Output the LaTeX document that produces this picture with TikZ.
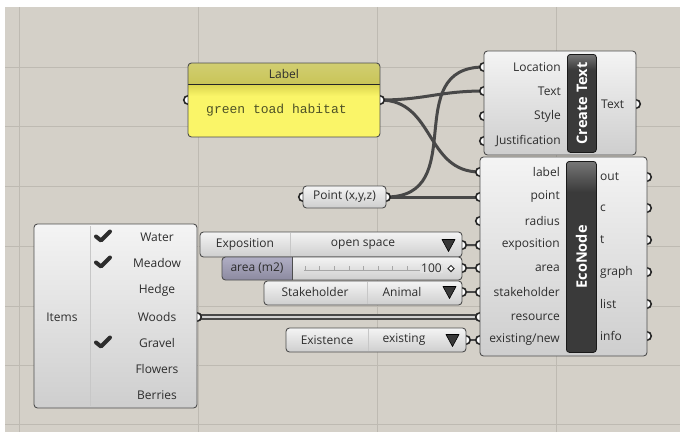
\documentclass[tikz,border=0pt]{standalone}
\usepackage{fontspec}
\setmainfont{Open Sans}
\newfontfamily\codefont{Liberation Mono}
\usetikzlibrary{shapes.geometric}

\definecolor{canvas}{RGB}{212,208,200}
\definecolor{gridline}{RGB}{190,186,178}
\definecolor{edge}{RGB}{78,78,78}
\definecolor{wirecol}{RGB}{72,72,72}
\definecolor{ink}{RGB}{45,45,45}
\definecolor{boxtop}{RGB}{244,244,244}
\definecolor{boxbot}{RGB}{206,206,206}
\definecolor{barcol}{RGB}{58,58,58}
\definecolor{barlight}{RGB}{118,118,118}
\definecolor{labelhead}{RGB}{201,197,88}
\definecolor{labelbody}{RGB}{250,245,104}
\definecolor{labelshadow}{RGB}{220,214,80}
\definecolor{nametop}{RGB}{176,174,196}
\definecolor{namebot}{RGB}{140,138,160}
\definecolor{codeink}{RGB}{78,82,38}

\pgfdeclareverticalshading{barshade}{100bp}{color(0bp)=(barcol); color(25bp)=(barcol); color(67bp)=(barcol); color(75bp)=(barlight); color(100bp)=(barlight)}

\pgfdeclarelayer{canvaslayer}
\pgfdeclarelayer{wirelayer}
\pgfdeclarelayer{portlayer}
\pgfsetlayers{canvaslayer,wirelayer,portlayer,main}

\begin{document}
\begin{tikzpicture}[x=1pt,y=-1pt,
  comp/.style={draw=edge, line width=0.9pt, rounded corners=3.5pt, top color=boxtop, bottom color=boxbot, anchor=north west, inner sep=0pt, outer sep=0pt},
  outline/.style={draw=edge, line width=0.9pt, rounded corners=3.5pt, anchor=north west, inner sep=0pt, outer sep=0pt},
  port/.style={circle, draw=black!85, fill=white, line width=1.6pt, inner sep=0pt, minimum size=8.5pt},
  wire/.style={draw=wirecol, line width=3pt},
  shortwire/.style={draw=wirecol, line width=2.2pt},
  txt/.style={font=\fontsize{12}{14}\selectfont, text=ink, inner sep=0pt},
  inname/.style={txt, anchor=east},
  outname/.style={txt, anchor=west},
  darkbar/.style={draw=black!90, line width=0.8pt, rounded corners=3pt, shading=barshade, anchor=north west, inner sep=0pt},
  bartext/.style={font=\bfseries\fontsize{14.5}{16}\selectfont, text=white, rotate=90, inner sep=0pt},
  checkmark/.style={draw=ink, line width=4pt, line cap=round, line join=round},
  droptri/.style={fill=black!78, draw=black, line width=0.6pt, line join=round},
  divider/.style={draw=black!22, line width=0.8pt},
]
\useasboundingbox (0,0) rectangle (680,432);

% ---------- canvas and grid ----------
\begin{pgfonlayer}{canvaslayer}
  \fill[canvas] (0,0) rectangle (680,432);
  \foreach \gx in {19,198,377,556} \draw[gridline, line width=1pt] (\gx,7) -- (\gx,432);
  \foreach \gy in {67,126,186,246,306,365,424} \draw[gridline, line width=1pt] (5,\gy) -- (680,\gy);
  \fill[white] (0,0) rectangle (680,7);
  \fill[white] (0,0) rectangle (5,432);
\end{pgfonlayer}

% ---------- Label panel ----------
\begin{scope}
  \clip[rounded corners=3.5pt] (188,63) rectangle (380,137);
  \fill[labelbody] (188,63) rectangle (380,137);
  \shade[top color=labelhead!85!white, bottom color=labelhead] (188,63) rectangle (380,84);
  \shade[top color=labelshadow, bottom color=labelbody] (188,85) rectangle (380,96);
  \draw[black!85, line width=1.6pt] (188,84.5) -- (380,84.5);
\end{scope}
\node[outline, minimum width=192pt, minimum height=74pt] (lab) at (188,63) {};
\node[txt] (labtitle) at (284,73.5) {Label};
\node[font=\codefont\fontsize{13}{14}\selectfont, text=codeink, anchor=west, inner sep=0pt] (labtext) at (206,110) {green toad habitat};

% ---------- Create Text ----------
\node[comp, minimum width=152pt, minimum height=104pt] (ct) at (484,51) {};
\node[darkbar, minimum width=29pt, minimum height=98pt] (ctbar) at (567,54) {};
\node[bartext] (cttitle) at (ctbar.center) {Create Text};
\node[inname] (ctn1) at (561,67) {Location};
\node[inname] (ctn2) at (561,91) {Text};
\node[inname] (ctn3) at (561,116) {Style};
\node[inname] (ctn4) at (561,141) {Justification};
\node[outname] (ctno) at (601,104) {Text};

% ---------- EcoNode ----------
\node[comp, minimum width=167pt, minimum height=199pt] (en) at (480,157) {};
\node[darkbar, minimum width=30pt, minimum height=191pt] (enbar) at (566,161) {};
\node[bartext] (entitle) at (enbar.center) {EcoNode};
\node[inname] (enn1) at (560,172) {label};
\node[inname] (enn2) at (560,197) {point};
\node[inname] (enn3) at (560,221) {radius};
\node[inname] (enn4) at (560,245) {exposition};
\node[inname] (enn5) at (560,268) {area};
\node[inname] (enn6) at (560,292) {stakeholder};
\node[inname] (enn7) at (560,317) {resource};
\node[inname] (enn8) at (560,340) {existing/new};
\node[outname] (eno1) at (600,177) {out};
\node[outname] (eno2) at (600,208) {c};
\node[outname] (eno3) at (600,240) {t};
\node[outname] (eno4) at (600,272) {graph};
\node[outname] (eno5) at (600,304) {list};
\node[outname] (eno6) at (600,336) {info};

% ---------- Point parameter ----------
\node[comp, minimum width=83pt, minimum height=22pt] (pt) at (303,186) {};
\node[txt] (pttext) at (344.5,197) {Point (x,y,z)};

% ---------- Items value list ----------
\node[comp, minimum width=163pt, minimum height=184pt] (items) at (34,224) {};
\draw[divider] (90,226) -- (90,406);
\node[txt] (itemsname) at (62,317) {Items};
\foreach \name/\ry [count=\k] in {Water/237,Meadow/263,Hedge/290,Woods/317,Gravel/343,Flowers/369,Berries/395}
  \node[txt] (item\k) at (157,\ry) {\name};
\foreach \ry in {237,263,343}
  \draw[checkmark] (96,\ry-0.5) -- (101,\ry+3.5) -- (110,\ry-5.5);

% ---------- Exposition list ----------
\node[comp, minimum width=262pt, minimum height=25pt] (expo) at (200,232) {};
\draw[divider] (290,233) -- (290,256);
\node[txt] (exponame) at (245,245) {Exposition};
\node[txt] (expoval) at (363,245) {open space};
\draw[droptri] (442,239.5) -- (455,239.5) -- (448.5,251.5) -- cycle;

% ---------- Area slider ----------
\begin{scope}
  \clip[rounded corners=3.5pt] (222,257) rectangle (462,280);
  \shade[top color=nametop, bottom color=namebot] (222,257) rectangle (292,280);
  \shade[top color=boxtop, bottom color=boxbot] (292,257) rectangle (462,280);
\end{scope}
\node[outline, minimum width=240pt, minimum height=23pt] (area) at (222,257) {};
\draw[edge, line width=0.7pt] (292,257) -- (292,280);
\node[txt] (areaname) at (257,268.5) {area (m2)};
\draw[black!35, line width=0.6pt] (304,270) -- (428,270);
\foreach \k in {0,...,8} \draw[black!35, line width=0.6pt] (305+14.6*\k,270) -- (305+14.6*\k,266);
\node[txt, anchor=east, fill=boxtop!50!boxbot, inner xsep=1pt] (areaval) at (443,268.5) {100};
\node[diamond, draw=ink, fill=white, line width=1pt, inner sep=0pt, minimum size=6.5pt] (areaknob) at (451,268.5) {};

% ---------- Stakeholder list ----------
\node[comp, minimum width=198pt, minimum height=24pt] (stake) at (264,281) {};
\draw[divider] (367,282) -- (367,304);
\node[txt] (stakename) at (315,292) {Stakeholder};
\node[txt] (stakeval) at (402,292) {Animal};
\draw[droptri] (443,286.5) -- (456,286.5) -- (449.5,298.5) -- cycle;

% ---------- Existence list ----------
\node[comp, minimum width=180pt, minimum height=24pt] (exist) at (286,328) {};
\draw[divider] (368,329) -- (368,351);
\node[txt] (existname) at (327,340) {Existence};
\node[txt] (existval) at (404,340) {existing};
\draw[droptri] (446,334.5) -- (459,334.5) -- (452.5,346.5) -- cycle;

% ---------- ports ----------
\begin{pgfonlayer}{portlayer}
  \node[port] (lab-in) at (188,100) {};
  \node[port] (lab-out) at (380,100) {};
  \node[port] (ct-in1) at (484,67) {};
  \node[port] (ct-in2) at (484,91) {};
  \node[port] (ct-in3) at (484,116) {};
  \node[port] (ct-in4) at (484,141) {};
  \node[port] (ct-out) at (636,104) {};
  \node[port] (en-in1) at (480,172) {};
  \node[port] (en-in2) at (480,197) {};
  \node[port] (en-in3) at (480,221) {};
  \node[port] (en-in4) at (480,245) {};
  \node[port] (en-in5) at (480,268) {};
  \node[port] (en-in6) at (480,292) {};
  \node[port] (en-in7) at (480,317) {};
  \node[port] (en-in8) at (480,340) {};
  \node[port] (en-out1) at (647,177) {};
  \node[port] (en-out2) at (647,208) {};
  \node[port] (en-out3) at (647,240) {};
  \node[port] (en-out4) at (647,272) {};
  \node[port] (en-out5) at (647,304) {};
  \node[port] (en-out6) at (647,336) {};
  \node[port] (pt-in) at (303,197) {};
  \node[port] (pt-out) at (386,197) {};
  \node[port] (items-out) at (197,317) {};
  \node[port] (expo-out) at (462,245) {};
  \node[port] (area-out) at (462,268) {};
  \node[port] (stake-out) at (462,292) {};
  \node[port] (exist-out) at (466,340) {};
\end{pgfonlayer}

% ---------- wires ----------
\begin{pgfonlayer}{wirelayer}
  \draw[wire] (lab-out.center) .. controls +(45,0) and +(-45,0) .. (ct-in2.center);
  \draw[wire] (lab-out.center) .. controls +(55,0) and +(-55,0) .. (en-in1.center);
  \draw[wire] (pt-out.center) .. controls +(85,0) and +(-85,0) .. (ct-in1.center);
  \draw[wire] (pt-out.center) -- (en-in2.center);
  \draw[shortwire] (expo-out.center) -- (en-in4.center);
  \draw[shortwire] (area-out.center) -- (en-in5.center);
  \draw[shortwire] (stake-out.center) -- (en-in6.center);
  \draw[shortwire] (exist-out.center) -- (en-in8.center);
  % list wire: dark rails with a pale core
  \draw[draw=wirecol, line width=5.5pt] (items-out.center) -- (en-in7.center);
  \draw[draw=black!18, line width=1.8pt] (items-out.center) -- (en-in7.center);
\end{pgfonlayer}
\end{tikzpicture}
\end{document}
